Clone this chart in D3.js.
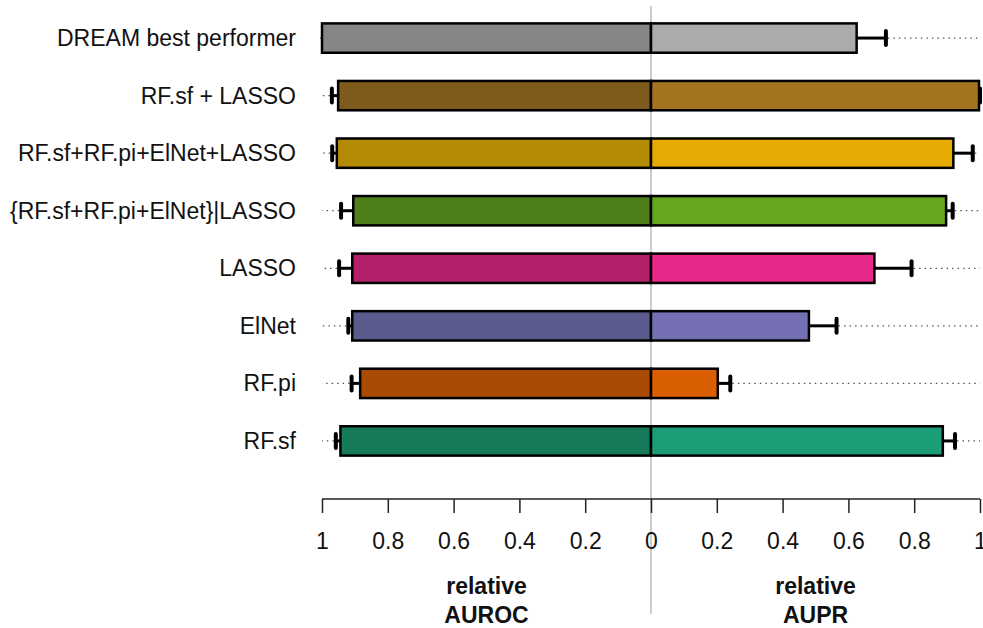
<!DOCTYPE html>
<html>
<head>
<meta charset="utf-8">
<script src="https://cdn.jsdelivr.net/npm/d3@7"></script>
<style>
  body { margin: 0; background: #fff; }
  svg text { font-family: "Liberation Sans", Arial, sans-serif; fill: #111; }
  svg text.narrow { font-family: "Liberation Sans Narrow", "Arial Narrow", "Liberation Sans", sans-serif; }
</style>
</head>
<body>
<svg id="chart" width="983" height="628"></svg>
<script>
// Methods, top to bottom.
const methods   = [ 'DREAM best performer', 'RF.sf + LASSO', 'RF.sf+RF.pi+ElNet+LASSO',
                    '{RF.sf+RF.pi+ElNet}|LASSO', 'LASSO', 'ElNet', 'RF.pi', 'RF.sf' ];
// Relative AUROC (left side) and its upper error bound.
const auroc     = [ 1.000, 0.951, 0.955, 0.905, 0.908, 0.908, 0.884, 0.944 ];
const aurocErr  = [ 1.000, 0.970, 0.969, 0.942, 0.948, 0.920, 0.910, 0.958 ];
// Relative AUPR (right side) and its upper error bound.
const aupr      = [ 0.625, 0.997, 0.919, 0.897, 0.679, 0.480, 0.203, 0.887 ];
const auprErr   = [ 0.714, 1.000, 0.978, 0.917, 0.792, 0.564, 0.241, 0.924 ];
// Fill colours: darker for AUROC, lighter for AUPR.
const colorsLeft  = [ '#868686', '#7e5a1b', '#b38a03', '#4e7f1a', '#b3216b', '#5b5a8c', '#a94b02', '#177a5b' ];
const colorsRight = [ '#ababab', '#a47520', '#e6ab02', '#66a61e', '#e7298a', '#7570b3', '#d95f02', '#1b9e77' ];
const ticks     = [ 0, 0.2, 0.4, 0.6, 0.8, 1 ];

const svg = d3.select( '#chart' );
const center = 651, span = 329;

const xRight = d3.scaleLinear().domain( [ 0, 1 ] ).range( [ center, center + span ] );
const xLeft  = d3.scaleLinear().domain( [ 0, 1 ] ).range( [ center, center - span ] );
const y = d3.scaleBand().domain( methods ).range( [ 9, 470 ] ).paddingInner( 0.49 ).paddingOuter( 0.25 );

const rows = methods.map( ( m, i ) => ( { m, i } ) );

// Dotted guides from the error cap out to the axis end.
const guides = svg.append( 'g' ).attr( 'stroke', '#555' ).attr( 'stroke-width', 1.2 )
  .attr( 'stroke-dasharray', '1.5,4' );
guides.selectAll( 'line.r' ).data( rows ).enter().append( 'line' )
  .attr( 'x1', d => xRight( auprErr[d.i] ) + 2 ).attr( 'x2', xRight( 1 ) )
  .attr( 'y1', d => y( d.m ) + y.bandwidth() / 2 ).attr( 'y2', d => y( d.m ) + y.bandwidth() / 2 );
guides.selectAll( 'line.l' ).data( rows ).enter().append( 'line' )
  .attr( 'x1', d => xLeft( aurocErr[d.i] ) - 2 ).attr( 'x2', xLeft( 1 ) )
  .attr( 'y1', d => y( d.m ) + y.bandwidth() / 2 ).attr( 'y2', d => y( d.m ) + y.bandwidth() / 2 );

// Centre line.
svg.append( 'line' ).attr( 'x1', center ).attr( 'x2', center ).attr( 'y1', 6 ).attr( 'y2', 614 )
  .attr( 'stroke', '#bbb' ).attr( 'stroke-width', 1.5 );

// Error bars.
const err = svg.append( 'g' ).attr( 'stroke', '#000' );
rows.forEach( d => {
  const cy = y( d.m ) + y.bandwidth() / 2;
  [ [ xRight( aupr[d.i] ), xRight( auprErr[d.i] ) ], [ xLeft( auroc[d.i] ), xLeft( aurocErr[d.i] ) ] ]
    .forEach( ( [ a, b ] ) => {
      if ( Math.abs( b - a ) < 0.5 ) return;
      err.append( 'line' ).attr( 'x1', a ).attr( 'x2', b ).attr( 'y1', cy ).attr( 'y2', cy )
        .attr( 'stroke-width', 3 );
      err.append( 'line' ).attr( 'x1', b ).attr( 'x2', b ).attr( 'y1', cy - 7 ).attr( 'y2', cy + 7 )
        .attr( 'stroke-width', 4 ).attr( 'stroke-linecap', 'round' );
    } );
} );

// Bars.
const bars = svg.append( 'g' ).attr( 'stroke', '#000' ).attr( 'stroke-width', 2.5 );
bars.selectAll( 'rect.l' ).data( rows ).enter().append( 'rect' )
  .attr( 'x', d => xLeft( auroc[d.i] ) ).attr( 'y', d => y( d.m ) )
  .attr( 'width', d => center - xLeft( auroc[d.i] ) ).attr( 'height', y.bandwidth() )
  .attr( 'fill', d => colorsLeft[d.i] );
bars.selectAll( 'rect.r' ).data( rows ).enter().append( 'rect' )
  .attr( 'x', center ).attr( 'y', d => y( d.m ) )
  .attr( 'width', d => xRight( aupr[d.i] ) - center ).attr( 'height', y.bandwidth() )
  .attr( 'fill', d => colorsRight[d.i] );

// Category labels.
svg.append( 'g' ).selectAll( 'text' ).data( rows ).enter().append( 'text' )
  .attr( 'x', 296 ).attr( 'y', d => y( d.m ) + y.bandwidth() / 2 )
  .attr( 'dy', '0.35em' ).attr( 'text-anchor', 'end' ).attr( 'font-size', 23 )
  .text( d => d.m );

// Axes.
const axisY = 499;
const axR = svg.append( 'g' ).attr( 'transform', `translate(0,${axisY})` )
  .call( d3.axisBottom( xRight ).tickValues( ticks ).tickSize( 14 ).tickPadding( 20 ).tickFormat( d3.format( '' ) ) );
const axL = svg.append( 'g' ).attr( 'transform', `translate(0,${axisY})` )
  .call( d3.axisBottom( xLeft ).tickValues( ticks.slice( 1 ) ).tickSize( 14 ).tickPadding( 20 ).tickFormat( d3.format( '' ) ) );
[ axR, axL ].forEach( ax => {
  ax.select( '.domain' ).remove();
  ax.selectAll( 'line' ).attr( 'stroke', '#222' ).attr( 'stroke-width', 1.5 );
  ax.selectAll( 'text' ).attr( 'class', 'narrow' ).attr( 'font-size', 23 ).attr( 'fill', '#111' )
    .style( 'font-family', '"Liberation Sans Narrow", "Arial Narrow", "Liberation Sans", sans-serif' );
} );
svg.append( 'line' ).attr( 'x1', xLeft( 1 ) ).attr( 'x2', xRight( 1 ) )
  .attr( 'y1', axisY ).attr( 'y2', axisY ).attr( 'stroke', '#222' ).attr( 'stroke-width', 1.5 );

// Axis titles.
const titles = [ { x: ( center + xLeft( 1 ) ) / 2, t: [ 'relative', 'AUROC' ] },
                 { x: ( center + xRight( 1 ) ) / 2, t: [ 'relative', 'AUPR' ] } ];
titles.forEach( o => {
  o.t.forEach( ( s, k ) => svg.append( 'text' ).attr( 'class', 'narrow' ).attr( 'x', o.x ).attr( 'y', 594 + k * 29 )
    .attr( 'text-anchor', 'middle' ).attr( 'font-size', 23 ).attr( 'font-weight', 'bold' ).text( s ) );
} );
</script>
</body>
</html>
